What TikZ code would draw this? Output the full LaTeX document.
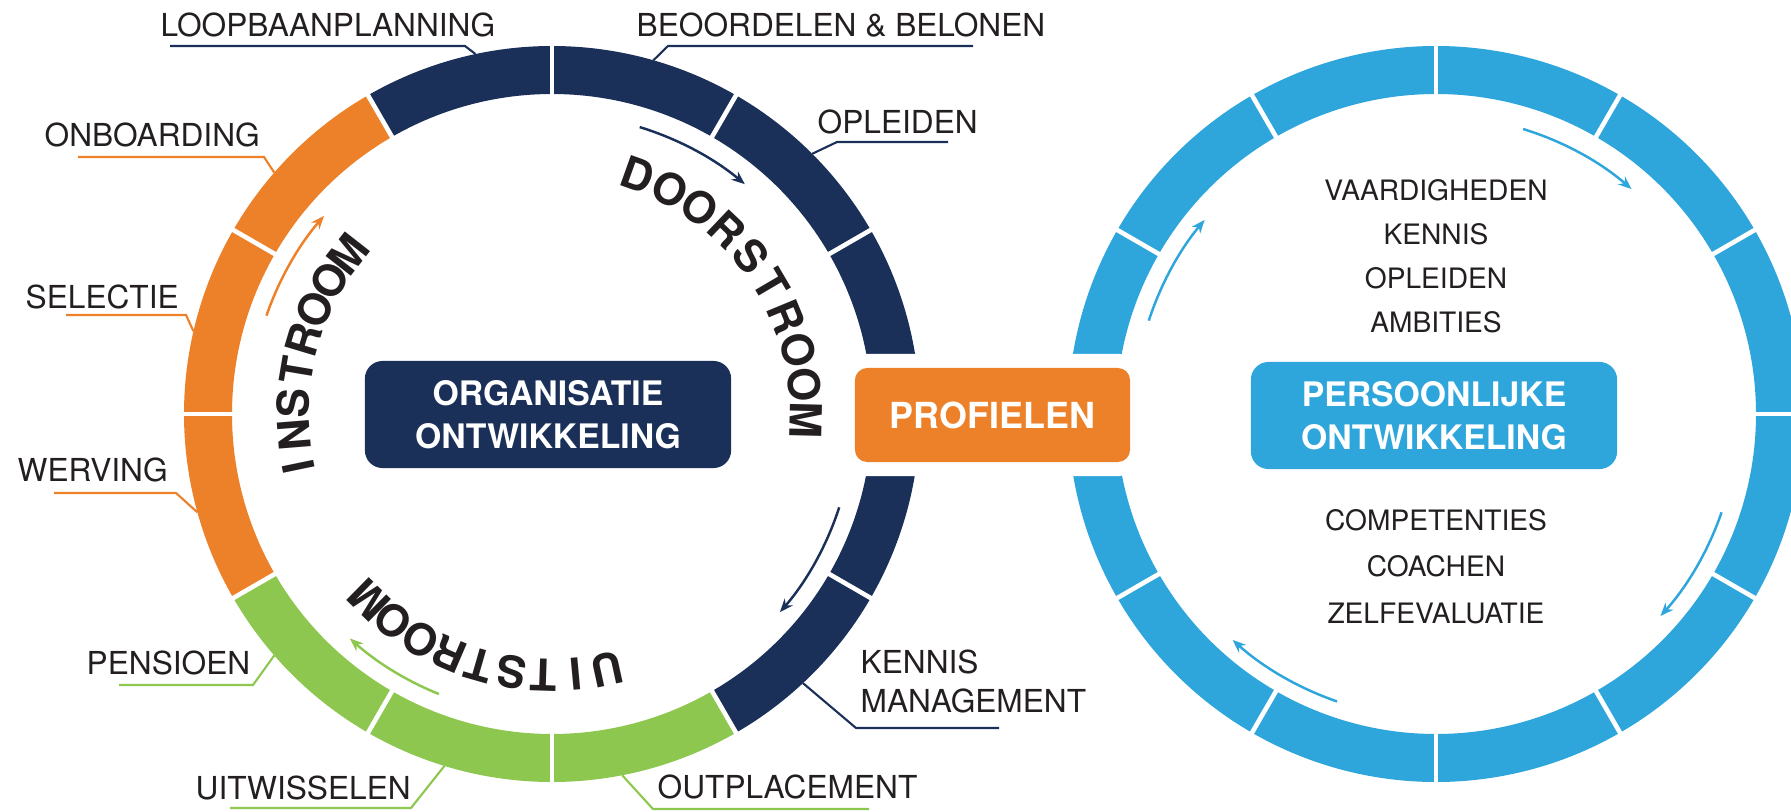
\documentclass[tikz,border=0pt]{standalone}
\usepackage{fontspec}
\setmainfont{TeX Gyre Heros}
\usetikzlibrary{arrows.meta}

\definecolor{navy}{RGB}{27,48,89}
\definecolor{oranje}{RGB}{237,129,41}
\definecolor{groen}{RGB}{141,199,79}
\definecolor{lichtblauw}{RGB}{46,166,220}
\definecolor{tekst}{RGB}{35,31,32}

\begin{document}
\begin{tikzpicture}[x=0.01cm, y=0.01cm,
	etiket/.style={anchor=west, inner sep=0pt, text=tekst, font=\fontsize{9}{11}\selectfont},
	binnen/.style={inner sep=0pt, align=center, text=tekst},
	lijn/.style={line width=0.6pt},
	pijl/.style={line width=0.7pt, -{Stealth[length=3.8pt, width=3pt]}},
	scheiding/.style={white, line width=1.3pt},
	letter/.style={inner sep=0pt, text=tekst, font=\fontsize{12.5}{12.5}\selectfont\bfseries},
	doos/.style={rounded corners=5pt, text=white, align=center, minimum width=3.66cm, minimum height=1.07cm, font=\fontsize{9.6}{12.2}\selectfont\bfseries}]
	\useasboundingbox (0,0) rectangle (1791,811);
	\clip (0,0) rectangle (1791,811);
	\coordinate (c1) at (552,397);
	\coordinate (c2) at (1436,397);
	% Ring organisatie
	\begin{scope}[shift={(c1)}]
		\foreach \a/\kleur [evaluate=\a as \b using \a-30] in {210/oranje,180/oranje,150/oranje,120/navy,90/navy,60/navy,30/navy,0/navy,-30/navy,-60/groen,-90/groen,-120/groen}
			\fill[\kleur] (\a:368) arc[start angle=\a, end angle=\b, radius=368] -- (\b:320) arc[start angle=\b, end angle=\a, radius=320] -- cycle;
		\foreach \a in {0,30,...,330}
			\draw[scheiding] (\a:312) -- (\a:376);
	\end{scope}
	% Ring persoonlijk
	\begin{scope}[shift={(c2)}]
		\foreach \a [evaluate=\a as \b using \a-30] in {0,30,...,330}
			\fill[lichtblauw] (\a:368) arc[start angle=\a, end angle=\b, radius=368] -- (\b:320) arc[start angle=\b, end angle=\a, radius=320] -- cycle;
		\foreach \a in {0,30,...,330}
			\draw[scheiding] (\a:312) -- (\a:376);
	\end{scope}
	% Woorden langs de ring
	\foreach \l [count=\i, evaluate=\i as \t using 70.3-7.97*(\i-1)] in {D,O,O,R,S,T,R,O,O,M}
		\node[letter, rotate=\t-90] (door-\i) at ([shift={(\t:254)}]c1) {\l};
	\foreach \l [count=\i, evaluate=\i as \t using 191.7-7.1*(\i-1)] in {I,N,S,T,R,O,O,M}
		\node[letter, rotate=\t-90] (in-\i) at ([shift={(\t:259)}]c1) {\l};
	\foreach \l [count=\i, evaluate=\i as \t using -77.7-7.1*(\i-1)] in {U,I,T,S,T,R,O,O,M}
		\node[letter, rotate=\t-90] (uit-\i) at ([shift={(\t:261)}]c1) {\l};
	% Pijlen
	\draw[pijl, oranje] ([shift={(161:302)}]c1) arc[start angle=161, end angle=139, radius=302];
	\draw[pijl, navy] ([shift={(73:300)}]c1) arc[start angle=73, end angle=50, radius=300];
	\draw[pijl, navy] ([shift={(-18:302)}]c1) arc[start angle=-18, end angle=-41, radius=302];
	\draw[pijl, groen] ([shift={(-112:302)}]c1) arc[start angle=-112, end angle=-132, radius=302];
	\draw[pijl, lichtblauw] ([shift={(162:302)}]c2) arc[start angle=162, end angle=140, radius=302];
	\draw[pijl, lichtblauw] ([shift={(73:298)}]c2) arc[start angle=73, end angle=49, radius=298];
	\draw[pijl, lichtblauw] ([shift={(-19:302)}]c2) arc[start angle=-19, end angle=-42, radius=302];
	\draw[pijl, lichtblauw] ([shift={(-109:304)}]c2) arc[start angle=-109, end angle=-132, radius=304];
	% Middelpunten
	\node[doos, fill=navy] (org) at (548,396.5) {ORGANISATIE\\ONTWIKKELING};
	\node[doos, fill=lichtblauw] (pers) at (1434,395.5) {PERSOONLIJKE\\ONTWIKKELING};
	\node[rounded corners=3.5pt, fill=oranje, text=white, minimum width=2.75cm, minimum height=0.94cm,
		font=\fontsize{10.2}{12}\selectfont\bfseries, preaction={draw=white, line width=8pt}] (prof) at (992.5,396) {PROFIELEN};
	\node[binnen, font=\fontsize{8}{12.5}\selectfont] (boven) at (1436,555) {VAARDIGHEDEN\\KENNIS\\OPLEIDEN\\AMBITIES};
	\node[binnen, font=\fontsize{8}{13.2}\selectfont] (onder) at (1436,244.5) {COMPETENTIES\\COACHEN\\ZELFEVALUATIE};
	% Labels instroom
	\node[etiket] (onboard) at (44,676) {ONBOARDING};
	\node[etiket] (selectie) at (25,514) {SELECTIE};
	\node[etiket] (werving) at (17,341) {WERVING};
	\coordinate (onboard-a) at (78,654);
	\coordinate (onboard-b) at (264,654);
	\coordinate (onboard-r) at ([shift={(139:368)}]c1);
	\coordinate (selectie-a) at (66,496);
	\coordinate (selectie-b) at (186,496);
	\coordinate (selectie-r) at ([shift={(167:368)}]c1);
	\coordinate (werving-a) at (54,318);
	\coordinate (werving-b) at (176,318);
	\coordinate (werving-r) at ([shift={(195.5:368)}]c1);
	\draw[lijn, oranje] (onboard-a) -- (onboard-b) -- (onboard-r);
	\draw[lijn, oranje] (selectie-a) -- (selectie-b) -- (selectie-r);
	\draw[lijn, oranje] (werving-a) -- (werving-b) -- (werving-r);
	% Labels doorstroom
	\node[etiket] (loopbaan) at (160,786) {LOOPBAANPLANNING};
	\node[etiket] (beoordelen) at (636,786) {BEOORDELEN \& BELONEN};
	\node[etiket] (opleiden) at (817,689) {OPLEIDEN};
	\node[etiket, align=left] (kennis) at (860,129.5) {KENNIS\\MANAGEMENT};
	\coordinate (loopbaan-a) at (170,765);
	\coordinate (loopbaan-b) at (465,765);
	\coordinate (loopbaan-r) at ([shift={(102:368)}]c1);
	\coordinate (beoordelen-a) at (973,765);
	\coordinate (beoordelen-b) at (668,765);
	\coordinate (beoordelen-r) at ([shift={(74:368)}]c1);
	\coordinate (opleiden-a) at (948,669);
	\coordinate (opleiden-b) at (837,669);
	\coordinate (opleiden-r) at ([shift={(45:368)}]c1);
	\coordinate (kennis-a) at (999,83);
	\coordinate (kennis-b) at (856,83);
	\coordinate (kennis-r) at ([shift={(-47:368)}]c1);
	\draw[lijn, navy] (loopbaan-a) -- (loopbaan-b) -- (loopbaan-r);
	\draw[lijn, navy] (beoordelen-a) -- (beoordelen-b) -- (beoordelen-r);
	\draw[lijn, navy] (opleiden-a) -- (opleiden-b) -- (opleiden-r);
	\draw[lijn, navy] (kennis-a) -- (kennis-b) -- (kennis-r);
	% Labels uitstroom
	\node[etiket] (pensioen) at (86,148) {PENSIOEN};
	\node[etiket] (uitwisselen) at (195,23) {UITWISSELEN};
	\node[etiket] (outplacement) at (657,24) {OUTPLACEMENT};
	\coordinate (pensioen-a) at (119,126);
	\coordinate (pensioen-b) at (253,126);
	\coordinate (pensioen-r) at ([shift={(221:368)}]c1);
	\coordinate (uitwisselen-a) at (230,3);
	\coordinate (uitwisselen-b) at (411,3);
	\coordinate (uitwisselen-r) at ([shift={(253:368)}]c1);
	\coordinate (outplacement-a) at (869,2);
	\coordinate (outplacement-b) at (653,2);
	\coordinate (outplacement-r) at ([shift={(281:368)}]c1);
	\draw[lijn, groen] (pensioen-a) -- (pensioen-b) -- (pensioen-r);
	\draw[lijn, groen] (uitwisselen-a) -- (uitwisselen-b) -- (uitwisselen-r);
	\draw[lijn, groen] (outplacement-a) -- (outplacement-b) -- (outplacement-r);
\end{tikzpicture}
\end{document}
